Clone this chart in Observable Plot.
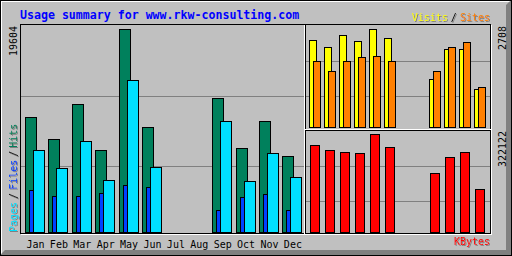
<!DOCTYPE html>
<html><head><meta charset="utf-8">
<script src="https://cdn.jsdelivr.net/npm/d3@7"></script>
<script src="https://cdn.jsdelivr.net/npm/@observablehq/plot@0.6"></script>
<style>
body{margin:0;background:#fff}
#chart{position:relative;width:512px;height:256px;background:#c0c0c0;overflow:hidden}
#chart svg{position:absolute;left:0;top:0}
</style></head><body><div id="chart"></div>
<script>
// ---- data ----
const months = ["Jan","Feb","Mar","Apr","May","Jun","Jul","Aug","Sep","Oct","Nov","Dec"];
const hits   = [11077, 8981, 12332, 7890, 19604, 10111, 0, 0, 12912, 8083, 10691, 7310];
const pages  = [7890, 6152, 8759, 4993, 14650, 6248, 0, 0, 10691, 4896, 7600, 5283];
const files  = [4027, 3448, 3448, 3737, 4510, 4317, 0, 0, 2096, 3351, 3641, 2096];
const visits = [2404, 2211, 2542, 2376, 2708, 2459, 0, 0, 1326, 2155, 2155, 1050];
const sites  = [1824, 1547, 1824, 1934, 1962, 1824, 0, 0, 1547, 2211, 2349, 1105];
const kbytes = [285965, 269531, 262957, 259670, 322122, 279392, 0, 0, 193930, 246522, 262957, 141340];
const title = "Usage summary for www.rkw-consulting.com";

const rows = months.map((m, i) => ({month: m, hits: hits[i], pages: pages[i], files: files[i],
  visits: visits[i], sites: sites[i], kbytes: kbytes[i]}));
const active = rows.filter(d => d.hits > 0);

const W = 512, H = 256;
const FONT = "'DejaVu Sans Mono', monospace";
const GREY = "#c0c0c0", DK = "#808080";
const C = {hits: "#00805c", pages: "#00e0ff", files: "#0040ff", visits: "#ffff00", sites: "#ff8000", kbytes: "#ff0000", title: "#0000ff"};

const chart = d3.select("#chart");

// ---- decoration layer: bevel, panel frames, legends ----
const deco = chart.append("svg").attr("width", W).attr("height", H);
const defs = deco.append("defs");
defs.append("filter").attr("id", "sh").attr("x", "-10%").attr("y", "-10%").attr("width", "130%").attr("height", "130%")
  .append("feDropShadow").attr("dx", 1).attr("dy", 1).attr("stdDeviation", 0).attr("flood-color", DK).attr("flood-opacity", 1);

deco.append("polygon").attr("points", "511,0 511,255 0,255 5,250 506,250 506,5").attr("fill", DK);
deco.append("polygon").attr("points", "0,0 511,0 509,2 2,2 2,253 0,255").attr("fill", "#fff");
deco.append("rect").attr("x", 0.5).attr("y", 0.5).attr("width", 511).attr("height", 255)
  .attr("fill", "none").attr("stroke", "#000");

const line = (x1, y1, x2, y2, c) => deco.append("line")
  .attr("x1", x1).attr("y1", y1).attr("x2", x2).attr("y2", y2)
  .attr("stroke", c).attr("shape-rendering", "crispEdges");
// outer graph frame
line(21, 234.5, 492, 234.5, "#fff");
line(491.5, 25, 491.5, 235, "#fff");
deco.append("rect").attr("x", 20.5).attr("y", 24.5).attr("width", 470).attr("height", 209)
  .attr("fill", "none").attr("stroke", "#000").attr("shape-rendering", "crispEdges");
// section lines
line(304.5, 25, 304.5, 234, "#fff");
line(305.5, 25, 305.5, 234, "#000");
line(305, 129.5, 491, 129.5, "#fff");
line(305, 130.5, 491, 130.5, "#000");

function label(parts, {x, y, rotate = 0, anchor = "start", size = 10, weight = "normal", shadow = true}) {
  const g = deco.append("g");
  if (shadow) g.attr("filter", "url(#sh)");
  const t = g.append("text")
    .attr("transform", `translate(${x},${y}) rotate(${rotate})`)
    .attr("text-anchor", anchor).attr("font-size", size).attr("font-weight", weight)
    .attr("font-family", FONT);
  parts.forEach(p => t.append("tspan").attr("dx", p.dx || 0).attr("fill", p.color).text(p.text));
}
label([{text: title, color: C.title}], {x: 20, y: 18.7, size: 11.6, weight: "bold", shadow: false});
label([{text: "Visits", color: C.visits}, {text: "/", color: "#000", dx: 3}, {text: "Sites", color: C.sites, dx: 3}],
  {x: 490, y: 20.5, anchor: "end"});
label([{text: "KBytes", color: C.kbytes}], {x: 490, y: 245, anchor: "end"});
label([{text: "Pages", color: C.pages}, {text: "/", color: "#000", dx: 3}, {text: "Files", color: C.files, dx: 3},
       {text: "/", color: "#000", dx: 3}, {text: "Hits", color: C.hits, dx: 3}],
  {x: 16.5, y: 232, rotate: -90});
const maxLabel = (v, x, yTop) => label([{text: String(v), color: "#000"}],
  {x, y: yTop + String(v).length * 6, rotate: -90, shadow: false});
maxLabel(d3.max(hits), 16.5, 26);
maxLabel(d3.max(visits), 505.5, 26);
maxLabel(d3.max(kbytes), 505.5, 131);

// ---- plots ----
const base = {
  width: W, height: H,
  style: {position: "absolute", left: "0px", top: "0px", background: "transparent", overflow: "visible", fontFamily: FONT, fontSize: "10px"}
};
const crisp = {shapeRendering: "crispEdges"};
// grid lines sit at thirds of each panel's height
const thirds = (max, basePx, topPx, panelTop, panelH) =>
  [1, 2].map(k => max * (basePx - (panelTop + k * panelH / 3 + 0.5)) / (basePx - topPx));

// main panel: hits / files / pages
const mainMax = d3.max(hits);
chart.append(() => Plot.plot({
  ...base,
  marginLeft: 21, marginRight: W - 304, marginTop: 25, marginBottom: H - 233,
  x: {type: "band", domain: months, range: [21.5, 21.5 + 12 * 23.4], padding: 0, round: false, axis: null},
  y: {domain: [0, mainMax], range: [232.5, 29.5], axis: null},
  marks: [
    Plot.ruleY(thirds(mainMax, 232.5, 29.5, 25, 210), {stroke: DK, ...crisp}),
    Plot.barY(active, {x: "month", y: "hits", fill: C.hits, stroke: "#000", insetLeft: 4, insetRight: 8.4, ...crisp}),
    Plot.barY(active, {x: "month", y: "files", fill: C.files, stroke: "#000", insetLeft: 8, insetRight: 11.4, ...crisp}),
    Plot.barY(active, {x: "month", y: "pages", fill: C.pages, stroke: "#000", insetLeft: 12, insetRight: 0.4, ...crisp}),
    Plot.text(months, {x: d => d, y: () => 0, dy: 14.5, dx: 1.8, lineAnchor: "bottom", fill: "#000", fontSize: 10, fontFamily: FONT})
  ]
}));

// visits / sites panel
const visMax = d3.max(visits);
chart.append(() => Plot.plot({
  ...base,
  marginLeft: 306, marginRight: W - 490, marginTop: 25, marginBottom: H - 128,
  x: {type: "band", domain: months, range: [306.5, 306.5 + 12 * 15], padding: 0, round: false, axis: null},
  y: {domain: [0, visMax], range: [127.5, 29.5], axis: null},
  marks: [
    Plot.ruleY(thirds(visMax, 127.5, 29.5, 25, 105), {stroke: DK, ...crisp}),
    Plot.barY(active, {x: "month", y: "visits", fill: C.visits, stroke: "#000", insetLeft: 3, insetRight: 5, ...crisp}),
    Plot.barY(active, {x: "month", y: "sites", fill: C.sites, stroke: "#000", insetLeft: 7, insetRight: 1, ...crisp})
  ]
}));

// kbytes panel
const kbMax = d3.max(kbytes);
chart.append(() => Plot.plot({
  ...base,
  marginLeft: 306, marginRight: W - 490, marginTop: 131, marginBottom: H - 233,
  x: {type: "band", domain: months, range: [306.5, 306.5 + 12 * 15], padding: 0, round: false, axis: null},
  y: {domain: [0, kbMax], range: [232.5, 134.5], axis: null},
  marks: [
    Plot.ruleY(thirds(kbMax, 232.5, 134.5, 130, 105), {stroke: DK, ...crisp}),
    Plot.barY(active, {x: "month", y: "kbytes", fill: C.kbytes, stroke: "#000", insetLeft: 4, insetRight: 2, ...crisp})
  ]
}));
</script></body></html>
